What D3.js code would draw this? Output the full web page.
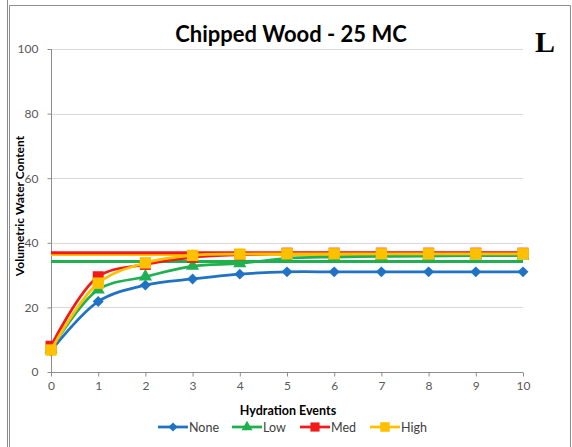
<!DOCTYPE html>
<html>
<head>
<meta charset="utf-8">
<script src="https://cdn.jsdelivr.net/npm/d3@7"></script>
<style>
  html, body { margin: 0; padding: 0; background: #fff; }
  svg { display: block; }
</style>
</head>
<body>
<svg id="chart" width="572" height="447"></svg>
<script>
// Hydration events on the x axis
const events = [0, 1, 2, 3, 4, 5, 6, 7, 8, 9, 10];

// Volumetric water content per treatment
const noneVals = [6.5, 21.8, 26.9, 28.8, 30.3, 31.0, 31.0, 31.0, 31.0, 31.0, 31.0];
const lowVals  = [7.0, 25.5, 29.5, 32.8, 33.6, 35.2, 35.6, 35.8, 35.9, 36.0, 36.0];
const medVals  = [8.0, 29.5, 33.3, 35.5, 36.3, 36.8, 36.8, 36.8, 36.8, 36.8, 36.8];
const highVals = [6.8, 27.5, 33.8, 36.1, 36.5, 36.6, 36.6, 36.6, 36.6, 36.6, 36.6];

// Horizontal reference levels
const refLow = 34.2;
const refMed = 36.9;
const refHigh = 36.4;

const yTicks = [0, 20, 40, 60, 80, 100];
const seriesNames = ["None", "Low", "Med", "High"];

const colors = { None: "#1f72c4", Low: "#1fb050", Med: "#f01a1a", High: "#ffc000" };

// Square-proportioned diamond (equal width and height)
const wideDiamond = {
  draw(context, size) {
    const r = Math.sqrt(size / 2);
    context.moveTo(0, -r);
    context.lineTo(r, 0);
    context.lineTo(0, r);
    context.lineTo(-r, 0);
    context.closePath();
  }
};
const shapes = { None: wideDiamond, Low: d3.symbolTriangle, Med: d3.symbolSquare, High: d3.symbolSquare };

const svg = d3.select("#chart");
const font = "Lato, 'Open Sans', sans-serif";

// Frame
svg.append("line").attr("x1", 7.5).attr("x2", 7.5).attr("y1", 0).attr("y2", 447)
  .attr("stroke", "#8c8c8c").attr("stroke-width", 1);
svg.append("path").attr("d", "M9.5,447 V5.5 H570.5 V447")
  .attr("fill", "none").attr("stroke", "#8c8c8c").attr("stroke-width", 1);

const x = d3.scaleLinear().domain([0, 10]).range([51, 523]);
const y = d3.scaleLinear().domain([0, 100]).range([372, 49]);

// Gridlines
svg.append("g").selectAll("line").data(yTicks.filter(d => d > 0)).join("line")
  .attr("x1", x(0)).attr("x2", x(10))
  .attr("y1", d => Math.round(y(d)) + 0.5).attr("y2", d => Math.round(y(d)) + 0.5)
  .attr("stroke", "#d9d9d9").attr("stroke-width", 1);

// Y axis
const yAxis = svg.append("g").attr("transform", `translate(${x(0) + 0.5},0)`)
  .call(d3.axisLeft(y).tickValues(yTicks).tickSize(4).tickPadding(9));
yAxis.select(".domain").attr("stroke", "#8c8c8c").attr("d", `M0,${y(100)}V${y(0)}`);
yAxis.selectAll(".tick line").attr("stroke", "#8c8c8c");
yAxis.selectAll(".tick text").attr("fill", "#595959").style("font-family", font).style("font-size", "12px");

// X axis
const xAxis = svg.append("g").attr("transform", `translate(0,${y(0) + 0.5})`)
  .call(d3.axisBottom(x).tickValues(events).tickSize(4).tickPadding(5).tickFormat(d3.format("d")));
xAxis.select(".domain").attr("stroke", "#8c8c8c").attr("d", `M${x(0)},0H${x(10)}`);
xAxis.selectAll(".tick line").attr("stroke", "#8c8c8c");
xAxis.selectAll(".tick text").attr("fill", "#595959").style("font-family", font).style("font-size", "12px");

// Reference lines
const refs = [["Low", refLow], ["High", refHigh], ["Med", refMed]];
svg.append("g").selectAll("line").data(refs).join("line")
  .attr("x1", x(0)).attr("x2", x(10))
  .attr("y1", d => y(d[1])).attr("y2", d => y(d[1]))
  .attr("stroke", d => colors[d[0]]).attr("stroke-width", 3);

// Series
const seriesData = { None: noneVals, Low: lowVals, Med: medVals, High: highVals };
const line = d3.line().x((d, i) => x(events[i])).y(d => y(d)).curve(d3.curveCatmullRom.alpha(0.5));
const markerSize = { None: 60, Low: 75, Med: 120, High: 130 };

seriesNames.forEach(name => {
  const vals = seriesData[name];
  const g = svg.append("g");
  g.append("path").datum(vals).attr("d", line)
    .attr("fill", "none").attr("stroke", colors[name]).attr("stroke-width", 2.75);
  g.selectAll("path.m").data(vals).join("path").attr("class", "m")
    .attr("transform", (d, i) => `translate(${x(events[i])},${y(d)})`)
    .attr("d", d3.symbol().type(shapes[name]).size(markerSize[name]))
    .attr("fill", colors[name]);
});

// Title
svg.append("text").attr("x", 291).attr("y", 42).attr("text-anchor", "middle")
  .style("font-family", font).style("font-weight", "bold").style("font-size", "22px")
  .attr("fill", "#000").text("Chipped Wood - 25 MC");

svg.append("text").attr("x", 545).attr("y", 52).attr("text-anchor", "middle")
  .style("font-family", "'Liberation Serif', serif").style("font-weight", "bold").style("font-size", "30px")
  .attr("fill", "#000").text("L");

// Axis titles
svg.append("text").attr("transform", "translate(24,206) rotate(-90)").attr("text-anchor", "middle")
  .style("font-family", font).style("font-weight", "bold").style("font-size", "12px")
  .attr("fill", "#000").text("Volumetric Water Content");

svg.append("text").attr("x", 288).attr("y", 415).attr("text-anchor", "middle")
  .style("font-family", font).style("font-weight", "bold").style("font-size", "12.5px")
  .attr("fill", "#000").text("Hydration Events");

// Legend
const legendPos = { None: 158, Low: 232, Med: 300, High: 370 };
const legY = 427;
seriesNames.forEach(name => {
  const lx = legendPos[name];
  const g = svg.append("g");
  g.append("line").attr("x1", lx).attr("x2", lx + 30).attr("y1", legY).attr("y2", legY)
    .attr("stroke", colors[name]).attr("stroke-width", 2.75);
  g.append("path").attr("transform", `translate(${lx + 15},${legY})`)
    .attr("d", d3.symbol().type(shapes[name]).size(markerSize[name] * 0.7))
    .attr("fill", colors[name]);
  g.append("text").attr("x", lx + 31).attr("y", legY + 4.5)
    .style("font-family", font).style("font-size", "12.5px").attr("fill", "#404040").text(name);
});
</script>
</body>
</html>
